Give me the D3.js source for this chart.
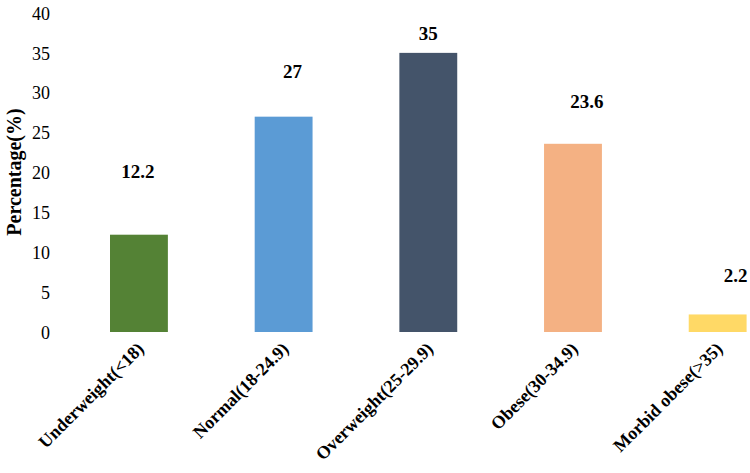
<!DOCTYPE html>
<html lang="en">

<head>
  <meta charset="UTF-8">
  <title>BMI distribution</title>
  <script src="https://d3js.org/d3.v7.min.js"></script>
  <style>
    body {
      margin: 0;
      background: #fff;
    }
  </style>
</head>

<body>
  <svg width="750" height="473"></svg>
  <script>
    const categories = ["Underweight(<18)", "Normal(18-24.9)", "Overweight(25-29.9)", "Obese(30-34.9)", "Morbid obese(>35)"]
    const values = [12.2, 27, 35, 23.6, 2.2]
    const barColors = ["#548235", "#5B9BD5", "#44546A", "#F4B183", "#FFD966"]
    const yTicks = [0, 5, 10, 15, 20, 25, 30, 35, 40]

    // data labels were hand placed in the original, nudges in px (dx, lift above bar top)
    const labelNudge = [[-1, 57], [9, 39], [0, 13], [14, 36], [18, 32]]

    const serif = "'Liberation Serif', 'Times New Roman', Times, 'DejaVu Serif', serif"

    const svg = d3.select("svg")

    const x = d3.scaleBand()
      .domain(categories)
      .range([66.6, 790])
      .paddingInner(0.6)
      .paddingOuter(0.3)

    const y = d3.scaleLinear()
      .domain([0, 40])
      .range([332, 13])

    // y axis labels only, no line or ticks
    const yAxis = svg.append("g")
      .attr("transform", "translate(54,0)")
      .call(d3.axisLeft(y).tickValues(yTicks).tickSize(0).tickPadding(4))
    yAxis.attr("font-family", null).attr("font-size", null)
    yAxis.select(".domain").remove()
    yAxis.selectAll("text")
      .style("font-family", serif)
      .style("font-size", "18px")
      .attr("fill", "#000")
      .attr("dy", "0.34em")

    svg.append("text")
      .attr("transform", "translate(21,172) rotate(-90)")
      .attr("text-anchor", "middle")
      .style("font-family", serif)
      .style("font-size", "20px")
      .style("font-weight", "bold")
      .text("Percentage(%)")

    svg.append("g")
      .selectAll("rect")
      .data(values)
      .join("rect")
      .attr("x", (d, i) => x(categories[i]))
      .attr("y", d => y(d))
      .attr("width", x.bandwidth())
      .attr("height", d => y(0) - y(d))
      .attr("fill", (d, i) => barColors[i])

    svg.append("g")
      .selectAll("text")
      .data(values)
      .join("text")
      .attr("x", (d, i) => x(categories[i]) + x.bandwidth() / 2 + labelNudge[i][0])
      .attr("y", (d, i) => y(d) - labelNudge[i][1])
      .attr("text-anchor", "middle")
      .style("font-family", serif)
      .style("font-size", "19px")
      .style("font-weight", "bold")
      .text(d => d)

    // rotated category labels
    svg.append("g")
      .selectAll("text")
      .data(categories)
      .join("text")
      .attr("transform", d => `translate(${x(d) + x.bandwidth() / 2 + 6},${y(0) + 18}) rotate(-45)`)
      .attr("text-anchor", "end")
      .style("font-family", serif)
      .style("font-size", "18px")
      .style("font-weight", "bold")
      .text(d => d)
  </script>
</body>

</html>
